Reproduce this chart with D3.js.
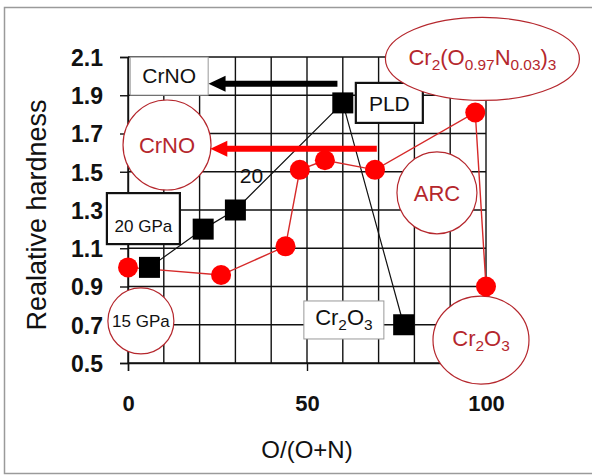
<!DOCTYPE html>
<html>
<head>
<meta charset="utf-8">
<script src="https://cdn.jsdelivr.net/npm/d3@7"></script>
<style>
  body { margin: 0; background: #fff; }
  svg { font-family: Arial, "Liberation Sans", sans-serif; }
</style>
</head>
<body>
<div id="chart"></div>
<script>
// data
const pldX = [6, 21, 30, 60, 77];
const pldY = [1.0, 1.2, 1.3, 1.86, 0.7];
const arcX = [0, 26, 44, 48, 55, 69, 97, 100];
const arcY = [1.0, 0.96, 1.11, 1.51, 1.56, 1.51, 1.81, 0.9];

const xTicks = [0, 50, 100];
const yTicks = [0.5, 0.7, 0.9, 1.1, 1.3, 1.5, 1.7, 1.9, 2.1];
const xGrid = d3.range(0, 101, 10);

// arrows: [y, from x, to x]
const blackArrow = [1.96, 58.5, 22.5];
const redArrow = [1.62, 69.5, 23];

const width = 592, height = 476;

const svg = d3.select("#chart").append("svg")
    .attr("width", width)
    .attr("height", height);

const xScale = d3.scaleLinear().domain([0, 100]).range([128, 486]);
const yScale = d3.scaleLinear().domain([0.5, 2.1]).range([363, 57]);

// outer frame
svg.append("rect")
    .attr("x", 4.5).attr("y", 7.5)
    .attr("width", 620).attr("height", 466)
    .attr("fill", "none").attr("stroke", "#9a9a9a").attr("stroke-width", 1.5);

// grid
const grid = svg.append("g").attr("stroke", "#111").attr("stroke-width", 1.4);
grid.selectAll("line.v").data(xGrid).enter().append("line")
    .attr("x1", d => xScale(d)).attr("x2", d => xScale(d))
    .attr("y1", yScale(2.1)).attr("y2", yScale(0.5));
grid.selectAll("line.h").data(yTicks).enter().append("line")
    .attr("x1", xScale(0)).attr("x2", xScale(100))
    .attr("y1", d => yScale(d)).attr("y2", d => yScale(d));

// axes
const yAxis = svg.append("g")
    .attr("transform", `translate(${xScale(0)},0)`)
    .call(d3.axisLeft(yScale).tickValues(yTicks).tickFormat(d3.format(".1f")).tickSize(8).tickPadding(17));
const xAxis = svg.append("g")
    .attr("transform", `translate(0,${yScale(0.5)})`)
    .call(d3.axisBottom(xScale).tickValues(xTicks).tickSize(8).tickPadding(24));
[yAxis, xAxis].forEach(a => {
    a.select(".domain").attr("stroke", "#111").attr("stroke-width", 1.4);
    a.selectAll(".tick line").attr("stroke", "#111").attr("stroke-width", 1.4);
    a.selectAll(".tick text")
        .attr("fill", "#111")
        .attr("font-family", "Arial, 'Liberation Sans', sans-serif")
        .attr("font-weight", "bold")
        .attr("font-size", 22);
});
yAxis.selectAll(".tick text").attr("dy", "0.36em").attr("font-size", 23);

svg.append("text")
    .attr("transform", `translate(46,215) rotate(-90)`)
    .attr("text-anchor", "middle")
    .attr("font-size", 27)
    .attr("fill", "#111")
    .text("Realative hardness");

svg.append("text")
    .attr("x", xScale(50)).attr("y", 458)
    .attr("text-anchor", "middle")
    .attr("font-size", 24)
    .attr("fill", "#111")
    .text("O/(O+N)");

// annotation shapes
const darkRed = "#b5272d";
const ann = svg.append("g");

function box(cx, cy, w, h, stroke, sw) {
    ann.append("rect")
        .attr("x", xScale(cx) - w / 2).attr("y", yScale(cy) - h / 2)
        .attr("width", w).attr("height", h)
        .attr("fill", "#fff").attr("stroke", stroke).attr("stroke-width", sw);
}
function oval(cx, cy, rx, ry) {
    ann.append("ellipse")
        .attr("cx", xScale(cx)).attr("cy", yScale(cy))
        .attr("rx", rx).attr("ry", ry)
        .attr("fill", "#fff").attr("stroke", darkRed).attr("stroke-width", 1.2);
}

box(11.5, 2.0, 78, 38, "#999", 1);
box(4.3, 1.255, 73, 51, "#111", 2.2);
box(73, 1.86, 67, 40, "#111", 2.2);
box(60.3, 0.725, 80, 38, "#999", 1);
oval(10.9, 1.64, 44, 45);
oval(3.6, 0.72, 33, 33);
oval(99, 2.09, 97, 41.5);
oval(86.3, 1.39, 40, 41);
oval(98.6, 0.62, 48, 44);

// data lines
const line = d3.line().x(d => xScale(d[0])).y(d => yScale(d[1]));
const pld = pldX.map((x, i) => [x, pldY[i]]);
const arc = arcX.map((x, i) => [x, arcY[i]]);

svg.append("path").datum(pld)
    .attr("d", line).attr("fill", "none")
    .attr("stroke", "#111").attr("stroke-width", 1.2);
svg.append("path").datum(arc)
    .attr("d", line).attr("fill", "none")
    .attr("stroke", "#d62a2a").attr("stroke-width", 1.4);

svg.selectAll("rect.pld").data(pld).enter().append("rect")
    .attr("class", "pld")
    .attr("x", d => xScale(d[0]) - 10.5).attr("y", d => yScale(d[1]) - 10.5)
    .attr("width", 21).attr("height", 21)
    .attr("fill", "#000");
svg.selectAll("circle.arc").data(arc).enter().append("circle")
    .attr("class", "arc")
    .attr("cx", d => xScale(d[0])).attr("cy", d => yScale(d[1]))
    .attr("r", 10)
    .attr("fill", "#ff0000");

// arrows
function arrow(a, color) {
    const y = yScale(a[0]), x0 = xScale(a[1]), x1 = xScale(a[2]);
    svg.append("line")
        .attr("x1", x0).attr("x2", x1 + 14)
        .attr("y1", y).attr("y2", y)
        .attr("stroke", color).attr("stroke-width", 6);
    svg.append("path")
        .attr("d", `M${x1},${y} L${x1 + 17},${y - 8} L${x1 + 17},${y + 8} Z`)
        .attr("fill", color);
}
arrow(blackArrow, "#000");
arrow(redArrow, "#ff0000");

// annotation texts
function label(cx, cy, parts, color, size, dyBase) {
    const t = svg.append("text")
        .attr("x", xScale(cx)).attr("y", yScale(cy) + dyBase)
        .attr("text-anchor", "middle")
        .attr("fill", color)
        .attr("font-size", size);
    let sub = false;
    parts.forEach(p => {
        const isSub = p.startsWith("_");
        const s = t.append("tspan").text(isSub ? p.slice(1) : p);
        if (isSub) s.attr("font-size", size * 0.7);
        if (isSub !== sub) s.attr("dy", isSub ? 5 : -5);
        sub = isSub;
    });
}
label(11.5, 2.0, ["CrNO"], "#111", 21, 7);
label(10.9, 1.64, ["CrNO"], darkRed, 22, 8);
label(4.3, 1.255, ["20 GPa"], "#111", 17, 13);
label(3.6, 0.72, ["15 GPa"], "#111", 17, 6);
label(73, 1.86, ["PLD"], "#111", 21, 8);
label(99, 2.09, ["Cr", "_2", "(O", "_0.97", "N", "_0.03", ")", "_3"], darkRed, 22, 6);
label(86.3, 1.39, ["ARC"], darkRed, 22, 8);
label(60.3, 0.725, ["Cr", "_2", "O", "_3"], "#111", 22, 5);
label(98.6, 0.62, ["Cr", "_2", "O", "_3"], darkRed, 22, 6);
label(34.5, 1.44, ["20"], "#111", 21, 0);
</script>
</body>
</html>
